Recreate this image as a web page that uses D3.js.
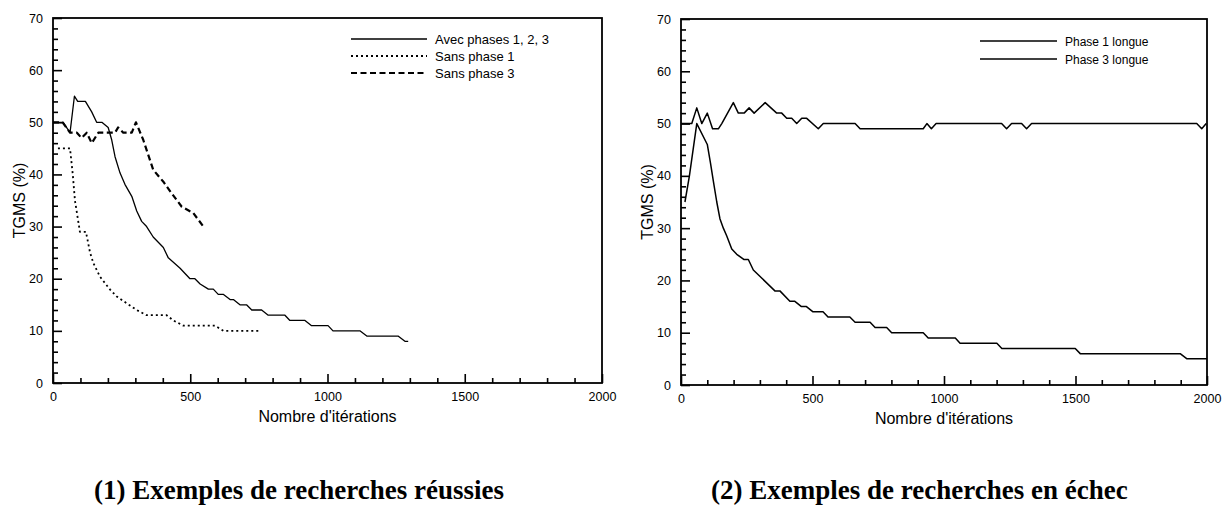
<!DOCTYPE html>
<html>
<head>
<meta charset="utf-8">
<script src="https://cdn.jsdelivr.net/npm/d3@7"></script>
<style>
  body { margin: 0; background: #fff; }
  svg { display: block; }
  .tick text { font-family: "Liberation Sans", Arial, sans-serif; }
</style>
</head>
<body>
<svg width="1228" height="505"></svg>
<script>
// (1) recherches reussies
var avecIter = [0, 37, 62, 78, 90, 118, 141, 159, 178, 201, 214, 226, 244, 262, 287, 305, 323, 341, 365, 402, 420, 463, 499, 517, 536, 566, 584, 602, 620, 645, 657, 681, 705, 724, 760, 784, 845, 863, 918, 942, 1002, 1020, 1118, 1143, 1257, 1282, 1294];
var avecTgms = [50, 50, 48, 55, 54, 54, 52, 50, 50, 49, 46.6, 43.4, 40.3, 38.1, 35.8, 33, 31, 30, 28, 26, 24, 22, 20, 20, 19, 18, 18, 17, 17, 16, 16, 15, 15, 14, 14, 13, 13, 12, 12, 11, 11, 10, 10, 9, 9, 8, 8];
var sans1Iter = [18, 62, 72, 80, 98, 120, 135, 147, 171, 208, 232, 268, 305, 341, 414, 438, 475, 590, 621, 748];
var sans1Tgms = [45, 45, 40, 35, 29, 29, 25, 23, 20.4, 17.9, 16.6, 15.3, 14, 13, 13, 12, 11, 11, 10, 10];
var sans3Iter = [0, 35, 62, 87, 104, 123, 141, 165, 226, 237, 256, 287, 302, 329, 365, 402, 432, 469, 511, 548];
var sans3Tgms = [50, 50, 48, 48, 47, 48, 46, 48, 48, 49, 48, 48, 50, 46.6, 40.9, 38.6, 36.4, 33.8, 32.6, 30];

// (2) recherches en echec
var p1Iter = [15, 32, 60, 100, 112, 123, 136, 148, 161, 174, 193, 212, 240, 256, 275, 357, 376, 414, 433, 458, 477, 502, 540, 559, 642, 662, 719, 738, 782, 801, 921, 940, 1043, 1061, 1201, 1220, 1499, 1518, 1898, 1924, 2000];
var p1Tgms = [35, 40, 50, 46, 42.5, 39, 35, 31.8, 30, 28.5, 26, 25, 24, 24, 22, 18, 18, 16, 16, 15, 15, 14, 14, 13, 13, 12, 12, 11, 11, 10, 10, 9, 9, 8, 8, 7, 7, 6, 6, 5, 5];
var p3Iter = [0, 41, 60, 79, 100, 120, 142, 155, 199, 218, 240, 259, 278, 320, 364, 383, 402, 421, 440, 459, 478, 522, 541, 662, 681, 921, 935, 952, 970, 1219, 1238, 1257, 1295, 1314, 1333, 1961, 1980, 1997];
var p3Tgms = [50, 50, 53, 50, 52, 49, 49, 50, 54, 52, 52, 53, 52, 54, 52, 52, 51, 51, 50, 51, 51, 49, 50, 50, 49, 49, 50, 49, 50, 50, 49, 50, 50, 49, 50, 50, 49, 50];

var xMajor = [0, 500, 1000, 1500, 2000];
var yMajor = [0, 10, 20, 30, 40, 50, 60, 70];

var svg = d3.select("svg");

function zip(xs, ys) {
  return xs.map(function (x, i) { return [x, ys[i]]; });
}

function panel(p) {
  var x = d3.scaleLinear().domain([0, 2000]).range([p.left, p.right]);
  var y = d3.scaleLinear().domain([0, 70]).range([p.bottom, p.top]);
  var g = svg.append("g");

  var xMinor = d3.range(0, 2001, 100).filter(function (d) { return d % 500 != 0; });
  var yMinor = d3.range(0, 71, 2).filter(function (d) { return d % 10 != 0; });

  g.append("g").attr("transform", "translate(0," + p.bottom + ")")
    .call(d3.axisBottom(x).tickValues(xMinor).tickSize(-5).tickFormat(""));
  g.append("g").attr("transform", "translate(0," + p.bottom + ")")
    .call(d3.axisBottom(x).tickValues(xMajor).tickSize(-9).tickPadding(9).tickFormat(d3.format("d")));
  g.append("g").attr("transform", "translate(" + p.left + ",0)")
    .call(d3.axisLeft(y).tickValues(yMinor).tickSize(-5).tickFormat(""));
  g.append("g").attr("transform", "translate(" + p.left + ",0)")
    .call(d3.axisLeft(y).tickValues(yMajor).tickSize(-9).tickPadding(10).tickFormat(d3.format("d")));

  g.selectAll(".domain").remove();
  g.selectAll(".tick line").attr("stroke", "#000").attr("stroke-width", 1.6);
  g.selectAll(".tick text").attr("font-size", 12.5).attr("fill", "#000");

  g.append("rect")
    .attr("x", p.left).attr("y", p.top)
    .attr("width", p.right - p.left).attr("height", p.bottom - p.top)
    .attr("fill", "none").attr("stroke", "#000").attr("stroke-width", 1.8);

  var line = d3.line().x(function (d) { return x(d[0]); }).y(function (d) { return y(d[1]); });

  p.series.forEach(function (s) {
    g.append("path")
      .datum(zip(s.iter, s.tgms))
      .attr("d", line)
      .attr("fill", "none")
      .attr("stroke", "#000")
      .attr("stroke-width", s.width)
      .attr("stroke-dasharray", s.dash)
      .attr("stroke-linejoin", "round");
  });

  // legende
  p.series.forEach(function (s, i) {
    var ly = p.legendY + i * p.legendStep;
    g.append("line")
      .attr("x1", p.legendX1).attr("x2", p.legendX2)
      .attr("y1", ly).attr("y2", ly)
      .attr("stroke", "#000").attr("stroke-width", s.width)
      .attr("stroke-dasharray", s.dash);
    g.append("text")
      .attr("x", p.legendX2 + 8).attr("y", ly + 4.5)
      .attr("font-family", "Liberation Sans, Arial, sans-serif")
      .attr("font-size", p.legendFont)
      .text(s.name);
  });

  g.append("text")
    .attr("x", (p.left + p.right) / 2).attr("y", p.bottom + 39)
    .attr("text-anchor", "middle")
    .attr("font-family", "Liberation Sans, Arial, sans-serif")
    .attr("font-size", 16)
    .text("Nombre d'itérations");

  g.append("text")
    .attr("transform", "translate(" + (p.left - 28) + "," + ((p.top + p.bottom) / 2) + ") rotate(-90)")
    .attr("text-anchor", "middle")
    .attr("font-family", "Liberation Sans, Arial, sans-serif")
    .attr("font-size", 16)
    .text("TGMS (%)");

  svg.append("text")
    .attr("x", p.captionX).attr("y", 499)
    .attr("font-family", "Liberation Serif, Times New Roman, serif")
    .attr("font-weight", "bold")
    .attr("font-size", 27)
    .text(p.caption);
}

panel({
  left: 53, right: 602, top: 18, bottom: 383,
  legendX1: 351, legendX2: 427, legendY: 39, legendStep: 17, legendFont: 13,
  captionX: 94, caption: "(1) Exemples de recherches réussies",
  series: [
    { name: "Avec phases 1, 2, 3", iter: avecIter, tgms: avecTgms, width: 1.3, dash: null },
    { name: "Sans phase 1", iter: sans1Iter, tgms: sans1Tgms, width: 1.8, dash: "2,3" },
    { name: "Sans phase 3", iter: sans3Iter, tgms: sans3Tgms, width: 2.2, dash: "6,3.5" }
  ]
});

panel({
  left: 681, right: 1207, top: 19, bottom: 385,
  legendX1: 980, legendX2: 1057, legendY: 41, legendStep: 18, legendFont: 12,
  captionX: 711, caption: "(2) Exemples de recherches en échec",
  series: [
    { name: "Phase 1 longue", iter: p1Iter, tgms: p1Tgms, width: 1.5, dash: null },
    { name: "Phase 3 longue", iter: p3Iter, tgms: p3Tgms, width: 1.5, dash: null }
  ]
});
</script>
</body>
</html>
